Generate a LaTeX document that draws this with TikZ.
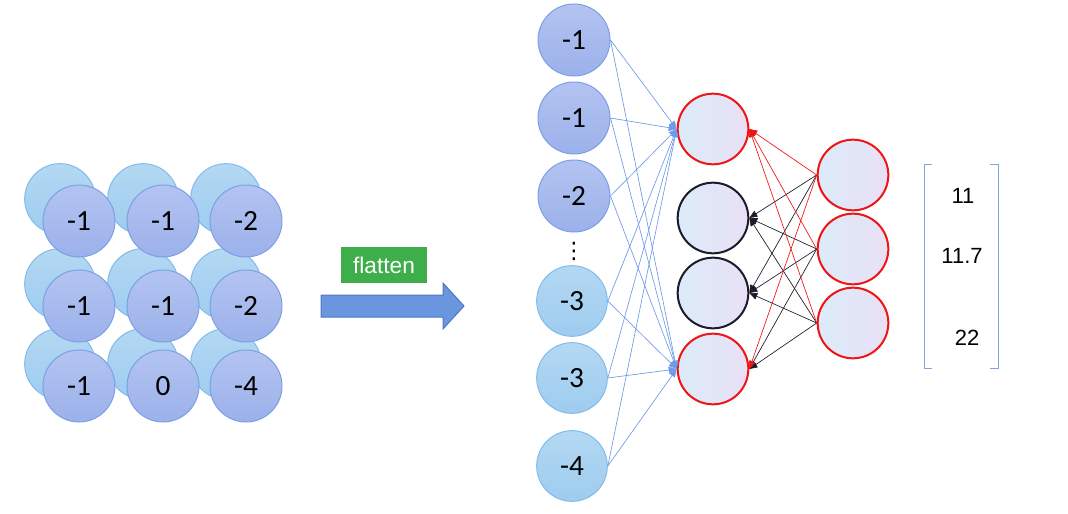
\documentclass[tikz,border=0pt]{standalone}
\usepackage{fontspec}
\setmainfont{Carlito}
\newfontfamily\arialfont{Liberation Sans}
\newfontfamily\symfont{DejaVu Sans}
\usetikzlibrary{arrows.meta}

\definecolor{frontfillA}{HTML}{B4C4F1}
\definecolor{frontfillB}{HTML}{9BB1EA}
\definecolor{frontline}{HTML}{7C9FE5}
\definecolor{backfillA}{HTML}{B3D8F3}
\definecolor{backfillB}{HTML}{9ECCEF}
\definecolor{backline}{HTML}{82BCEA}
\definecolor{unitA}{HTML}{DCEBF9}
\definecolor{unitB}{HTML}{E9E0F6}
\definecolor{wireblue}{HTML}{6F9BE6}
\definecolor{arrowfill}{HTML}{6A96E0}
\definecolor{arrowline}{HTML}{4F77C4}
\definecolor{boxgreen}{HTML}{3DAE4A}
\definecolor{bracketblue}{HTML}{7FA4E0}
\definecolor{unitred}{HTML}{F01414}
\definecolor{unitblack}{HTML}{1B1B2B}

\tikzset{
  frontcell/.style={circle, draw=frontline, line width=0.75pt, top color=frontfillA, bottom color=frontfillB,
    minimum size=54pt, inner sep=0pt, font=\fontsize{22}{22}\selectfont},
  backcell/.style={circle, draw=backline, line width=0.75pt, top color=backfillA, bottom color=backfillB,
    minimum size=53pt, inner sep=0pt, font=\fontsize{22}{22}\selectfont},
  unit/.style={circle, line width=1.5pt, left color=unitA, right color=unitB, minimum size=53pt, inner sep=0pt},
  wire/.style={line width=0.5pt, -{Triangle[length=6pt,width=5pt]}},
  vecentry/.style={font=\arialfont\fontsize{16.5}{16.5}\selectfont},
}

\begin{document}
\begin{tikzpicture}[x=0.75pt, y=-0.75pt]
	\useasboundingbox (0,0) rectangle (1068,514);
	% 3x3 input picture, back layer first
	\node[backcell] (b11) at (60,199) {};
	\node[backcell] (b12) at (143,199) {};
	\node[backcell] (b13) at (226,199) {};
	\node[backcell] (b21) at (60,284) {};
	\node[backcell] (b22) at (143,284) {};
	\node[backcell] (b23) at (226,284) {};
	\node[backcell] (b31) at (60,364) {};
	\node[backcell] (b32) at (143,364) {};
	\node[backcell] (b33) at (226,364) {};
	\node[frontcell] (g11) at (79,221) {-1};
	\node[frontcell] (g12) at (163,221) {-1};
	\node[frontcell] (g13) at (246,221) {-2};
	\node[frontcell] (g21) at (79,306) {-1};
	\node[frontcell] (g22) at (163,306) {-1};
	\node[frontcell] (g23) at (246,306) {-2};
	\node[frontcell] (g31) at (79,386) {-1};
	\node[frontcell] (g32) at (163,386) {0};
	\node[frontcell] (g33) at (246,386) {-4};

	% flatten arrow
	\filldraw[fill=arrowfill, draw=arrowline, line width=0.75pt]
		(321,295) -- (443,295) -- (443,283) -- (464,306) -- (443,329) -- (443,317) -- (321,317) -- cycle;
	\node[fill=boxgreen, text=white, minimum width=64.5pt, minimum height=27pt, inner sep=0pt,
		font=\arialfont\fontsize{17}{17}\selectfont] (flat) at (384,265) {flatten};

	% flattened column
	\node[frontcell] (in1) at (574,40) {-1};
	\node[frontcell] (in2) at (574,118) {-1};
	\node[frontcell] (in3) at (574,196) {-2};
	\node[inner sep=0pt, font=\symfont\fontsize{17}{17}\selectfont] (dots) at (574,251) {⋮};
	\node[backcell] (in4) at (572,301) {-3};
	\node[backcell] (in5) at (572,378) {-3};
	\node[backcell] (in6) at (572,466) {-4};

	% hidden and output units
	\node[unit, draw=unitred] (h1) at (713,129) {};
	\node[unit, draw=unitblack] (h2) at (713,218) {};
	\node[unit, draw=unitblack] (h3) at (713,293) {};
	\node[unit, draw=unitred] (h4) at (713,369) {};
	\node[unit, draw=unitred] (o1) at (853,175) {};
	\node[unit, draw=unitred] (o2) at (853,249) {};
	\node[unit, draw=unitred] (o3) at (853,323) {};

	% input wires
	\draw[wire, wireblue] (in1.east) -- (h1.west);
	\draw[wire, wireblue] (in2.east) -- (h1.west);
	\draw[wire, wireblue] (in3.east) -- (h1.west);
	\draw[wire, wireblue] (in4.east) -- (h1.west);
	\draw[wire, wireblue] (in5.east) -- (h1.west);
	\draw[wire, wireblue] (in6.east) -- (h1.west);
	\draw[wire, wireblue] (in1.east) -- (h4.west);
	\draw[wire, wireblue] (in2.east) -- (h4.west);
	\draw[wire, wireblue] (in3.east) -- (h4.west);
	\draw[wire, wireblue] (in4.east) -- (h4.west);
	\draw[wire, wireblue] (in5.east) -- (h4.west);
	\draw[wire, wireblue] (in6.east) -- (h4.west);

	% back wires from the right
	\draw[wire, unitblack] (o1.west) -- (h2.east);
	\draw[wire, unitblack] (o1.west) -- (h3.east);
	\draw[wire, unitblack] (o2.west) -- (h2.east);
	\draw[wire, unitblack] (o2.west) -- (h3.east);
	\draw[wire, unitblack] (o2.west) -- (h4.east);
	\draw[wire, unitblack] (o3.west) -- (h2.east);
	\draw[wire, unitblack] (o3.west) -- (h3.east);
	\draw[wire, unitblack] (o3.west) -- (h4.east);
	\draw[wire, unitred] (o1.west) -- (h1.east);
	\draw[wire, unitred] (o2.west) -- (h1.east);
	\draw[wire, unitred] (o3.west) -- (h1.east);
	\draw[wire, unitred] (o1.west) -- (h4.east);

	% vector
	\draw[bracketblue, line width=0.75pt] (932,164) -- (924,164) -- (924,368) -- (932,368);
	\draw[bracketblue, line width=0.75pt] (990,164) -- (998,164) -- (998,368) -- (990,368);
	\node[vecentry] (v1) at (963,196) {11};
	\node[vecentry] (v2) at (962,256) {11.7};
	\node[vecentry] (v3) at (967,338) {22};
\end{tikzpicture}
\end{document}
